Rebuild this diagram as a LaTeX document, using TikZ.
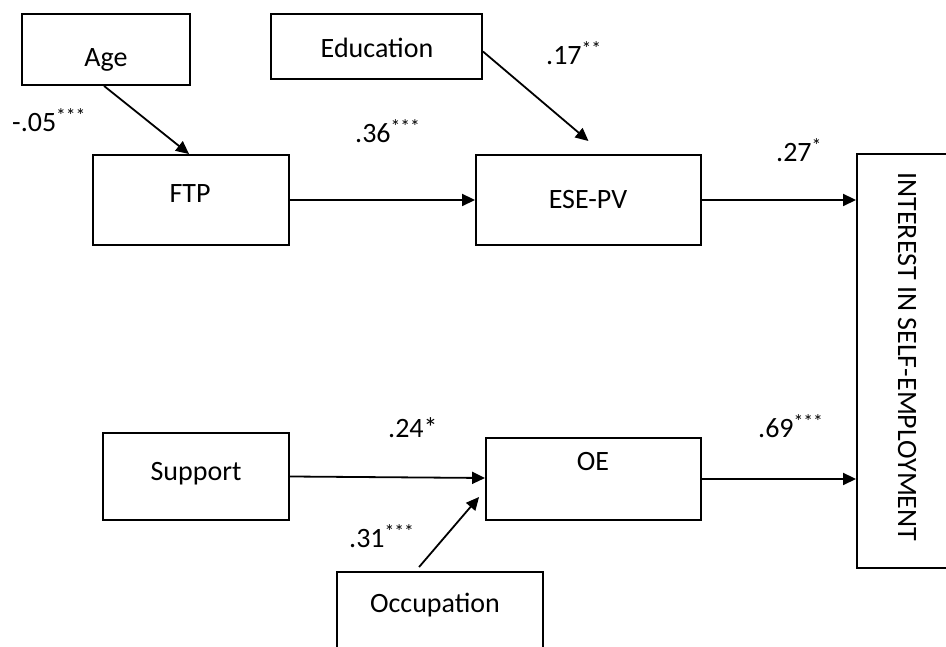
\documentclass[tikz,border=0pt]{standalone}
\usepackage{fontspec}
\setmainfont{Carlito}
\usetikzlibrary{arrows.meta,calc}
\tikzset{
  box/.style={draw, line width=1.9pt, inner sep=0pt},
  lbl/.style={anchor=base west, inner sep=0pt},
  txt/.style={anchor=base, inner sep=0pt},
  arr/.style={line width=1.8pt, -{Triangle[length=13pt,width=12pt]}}
}
\begin{document}
\begin{tikzpicture}[x=1pt,y=1pt,font=\fontsize{28}{33}\selectfont]
\useasboundingbox (0,0) rectangle (946,647);
\clip (0,0) rectangle (946,647);
% boxes (y-up coordinates, px = pt)
\node[box, minimum width=168pt, minimum height=71pt] (age) at (106,597.5) {};
\node[box, minimum width=211pt, minimum height=65pt] (edu) at (376.5,600.5) {};
\node[box, minimum width=196pt, minimum height=90pt] (ftp) at (191,447) {};
\node[box, minimum width=225pt, minimum height=90pt] (ese) at (588.5,447) {};
\node[box, minimum width=103pt, minimum height=414pt] (intr) at (908.5,286) {};
\node[box, minimum width=186pt, minimum height=87pt] (sup) at (196,170.5) {};
\node[box, minimum width=215pt, minimum height=82pt] (oe) at (593.5,168) {};
\node[box, minimum width=206pt, minimum height=108pt] (occ) at (440,21) {};
% box texts
\node[txt] (tage) at (106,580) {Age};
\node[txt] (tedu) at (377,589) {Education};
\node[txt] (tftp) at (190,444) {FTP};
\node[txt] (tese) at (588,438) {ESE-PV};
\node[txt] (tsup) at (196,166) {Support};
\node[txt] (toe) at (593,176) {OE};
\node[txt] (tocc) at (435,34) {Occupation};
\node[inner sep=0pt, rotate=-90] (tintr) at (907,290) {INTEREST IN SELF-EMPLOYMENT};
% coefficient labels
\node[lbl] (l1) at (12,515) {-.05\textsuperscript{***}};
\node[lbl] (l2) at (355,504) {.36\textsuperscript{***}};
\node[lbl] (l3) at (546,582) {.17\textsuperscript{**}};
\node[lbl] (l4) at (776,485) {.27\textsuperscript{*}};
\node[lbl] (l5) at (388,209) {.24*};
\node[lbl] (l6) at (349,99) {.31\textsuperscript{***}};
\node[lbl] (l7) at (758,209) {.69\textsuperscript{***}};
% connectors
\draw[arr] ($(age.south west)+(83,0)$) -- ($(ftp.north west)+(97,0)$);
\draw[arr] ($(edu.east)+(0,-5)$) -- ($(ese.north)+(0,13)$);
\draw[arr] (ftp.east) -- (ese.west);
\draw[arr] (ese.east) -- (ese.east -| intr.west);
\draw[arr] (sup.east) -- ($(sup.east -| oe.west)+(0,-1.5)$);
\draw[arr] ($(occ.north west)+(83,4)$) -- ($(oe.west)+(-6,-18)$);
\draw[arr] (oe.east) -- (oe.east -| intr.west);
\end{tikzpicture}
\end{document}
